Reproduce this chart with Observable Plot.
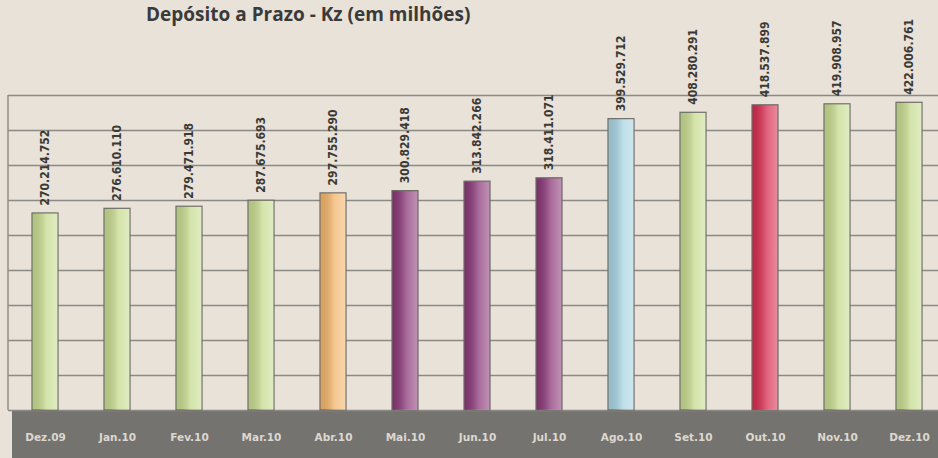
<!DOCTYPE html>
<html><head><meta charset="utf-8">
<script src="https://cdn.jsdelivr.net/npm/d3@7"></script>
<script src="https://cdn.jsdelivr.net/npm/@observablehq/plot@0.6"></script>
<style>
html,body{margin:0;padding:0;background:#e8e2d8;overflow:hidden}
#wrap{position:relative;width:938px;height:458px}
#title{position:absolute;left:146px;top:3px;font:bold 19px/22px "Open Sans",sans-serif;color:#3a3a3a;white-space:nowrap;z-index:2}
svg{overflow:visible}
</style></head><body>
<div id="wrap"><div id="title">Depósito a Prazo - Kz (em milhões)</div></div>
<script>
const months = ["Dez.09","Jan.10","Fev.10","Mar.10","Abr.10","Mai.10","Jun.10","Jul.10","Ago.10","Set.10","Out.10","Nov.10","Dez.10"];
const values = [270214752,276610110,279471918,287675693,297755290,300829418,313842266,318411071,399529712,408280291,418537899,419908957,422006761];
const groups = ["verde","verde","verde","verde","laranja","roxo","roxo","roxo","azul","verde","vermelho","verde","verde"];

const groupNames = ["verde","laranja","roxo","azul","vermelho"];
const groupColors = ["#c6da8e","#f2b46a","#8a3777","#a6d2e0","#d62a4e"];

const data = months.map((m, i) => ({month: m, value: values[i], group: groups[i]}));
const loc = d3.formatLocale({decimal: ",", thousands: ".", grouping: [3], currency: ["", ""]});
const fmt = loc.format(",d");

const W = 938, H = 458, mTop = 95, mBottom = 48, mLeft = 8;
const yMax = 432e6;

const chart = Plot.plot({
  width: W, height: H,
  marginTop: mTop, marginBottom: mBottom, marginLeft: mLeft, marginRight: 0,
  style: {background: "transparent", overflow: "visible"},
  x: {domain: months, range: [mLeft, 946], paddingInner: 0.64, paddingOuter: 0.32, label: null},
  y: {domain: [0, yMax], label: null},
  color: {domain: groupNames, range: groupColors},
  marks: [
    Plot.ruleY(d3.range(0, yMax + 1, 48e6), {stroke: "#8c8a85", strokeWidth: 1.4}),
    Plot.barY(data, {x: "month", y: "value", fill: "group", stroke: "#6d6b66", strokeWidth: 1.2}),
    Plot.barY(data, {x: "month", y: "value", fill: "url(#shine)", insetLeft: 0.6, insetRight: 0.6, insetTop: 0.6}),
    Plot.text(data, {x: "month", y: "value", text: d => fmt(d.value), rotate: -90, textAnchor: "start", dy: -8,
      fill: "#3a3936", fontSize: 12, fontWeight: 600, fontFamily: "DejaVu Sans Condensed, DejaVu Sans"}),
    Plot.axisX({tickSize: 0, tickPadding: 23, fill: "#dcd8d0", fontSize: 10.5, fontWeight: "bold", fontFamily: "DejaVu Sans"}),
    Plot.axisY({ticks: [], label: null})
  ]
});
document.getElementById("wrap").appendChild(chart);

const svg = d3.select(chart);
const defs = svg.insert("defs", ":first-child");
const g = defs.append("linearGradient").attr("id", "shine").attr("x1", 0).attr("x2", 1).attr("y1", 0).attr("y2", 0);
g.append("stop").attr("offset", 0).attr("stop-color", "#000").attr("stop-opacity", 0.1);
g.append("stop").attr("offset", 0.55).attr("stop-color", "#fff").attr("stop-opacity", 0.25);
g.append("stop").attr("offset", 1).attr("stop-color", "#fff").attr("stop-opacity", 0.45);

// bottom band and left frame line
const bandY = H - mBottom;
svg.insert("rect", "defs + *").attr("x", 12).attr("y", bandY).attr("width", W).attr("height", mBottom).attr("fill", "#74736f");
svg.insert("line", "defs + *").attr("x1", mLeft).attr("x2", mLeft).attr("y1", mTop).attr("y2", bandY).attr("stroke", "#8c8a85").attr("stroke-width", 1.4);
svg.selectAll("g[aria-label='x-axis tick label']").raise();
</script>
</body></html>
